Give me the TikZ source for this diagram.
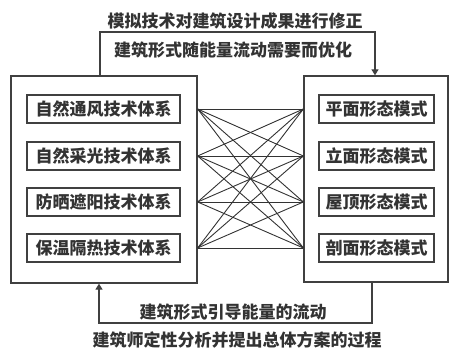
\documentclass[tikz,border=0pt]{standalone}
\usepackage{fontspec}
\setmainfont{Noto Sans CJK SC}
\usetikzlibrary{arrows.meta}
\begin{document}
\begin{tikzpicture}[x=1pt,y=1pt,
  txt/.style={font=\fontsize{17}{19}\selectfont\bfseries, text=black!80, inner sep=0pt},
  outerbox/.style={draw=black!75, line width=1.3pt, fill=white, inner sep=0pt},
  innerbox/.style={draw=black!75, line width=1.6pt, inner sep=0pt, minimum height=28pt, txt},
  link/.style={draw=black!80, line width=0.9pt},
  flow/.style={draw=black!75, line width=1.2pt},
  arr/.style={flow, -{Triangle[width=7pt,length=6pt]}}]
\useasboundingbox (0,0) rectangle (450,352);
\node[outerbox, minimum width=186pt, minimum height=207pt] (L) at (104,172.5) {};
\node[outerbox, minimum width=144pt, minimum height=206pt] (R) at (376,173) {};
\foreach \n/\y/\t in {1/243/自然通风技术体系, 2/196/自然采光技术体系, 3/150/防晒遮阳技术体系, 4/104/保温隔热技术体系}
  \node[innerbox, minimum width=153pt] (a\n) at (103.5,\y) {\t};
\foreach \n/\y/\t in {1/243/平面形态模式, 2/196/立面形态模式, 3/150/屋顶形态模式, 4/104/剖面形态模式}
  \node[innerbox, minimum width=115pt] (b\n) at (376.5,\y) {\t};
\foreach \i in {1,...,4}
  \foreach \j in {1,...,4}
    \draw[link] (a\i -| L.east) -- (b\j -| R.west);
% top feedback
\coordinate (t1) at (100,320);
\coordinate (t2) at (375,320);
\draw[arr] (t1 |- L.north) -- (t1) -- (t2) -- (t2 |- R.north);
\node[txt] (tt1) at (235,331) {模拟技术对建筑设计成果进行修正};
\node[txt] (tt2) at (233,302) {建筑形式随能量流动需要而优化};
% bottom feedback
\coordinate (u1) at (372,29);
\coordinate (u2) at (99,29);
\draw[arr] (u1 |- R.south) -- (u1) -- (u2) -- (u2 |- L.south);
\node[txt] (bt1) at (233,40) {建筑形式引导能量的流动};
\node[txt] (bt2) at (237,12) {建筑师定性分析并提出总体方案的过程};
\end{tikzpicture}
\end{document}
